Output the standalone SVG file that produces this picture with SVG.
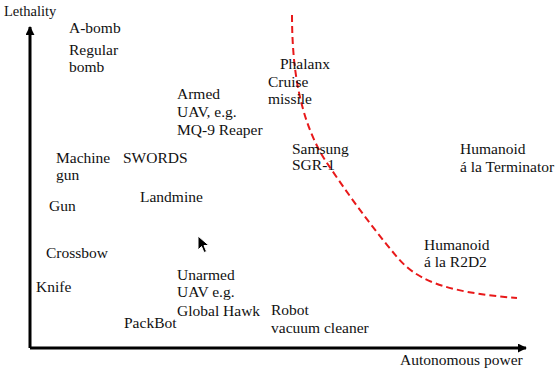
<svg xmlns="http://www.w3.org/2000/svg" width="560" height="374" viewBox="0 0 560 374">
<style>
.t text{font-size:15.5px;fill:#111}
.ax{stroke:#000;stroke-width:3;fill:none}
.lim{stroke:#e8191a;stroke-width:2;fill:none;stroke-dasharray:7 4}
</style>
<defs>
<marker id="ah" viewBox="0 0 10 10" refX="9" refY="5" markerWidth="3" markerHeight="3" orient="auto" markerUnits="strokeWidth">
<path d="M0,0 L10,5 L0,10 Z" fill="#000"/>
</marker>
</defs>
<rect width="560" height="374" fill="#fff"/>
<g id="connectors">
<path class="ax" d="M30,348 L30,27" marker-end="url(#ah)"/>
<path class="ax" d="M30,348 L526,348" marker-end="url(#ah)"/>
<path class="lim" d="M292,15 C292,70 300,120 325,160 C345,190 370,225 397,257 C415,278 440,292 517,298"/>
</g>
<g class="t" font-family="Liberation Serif">
<g id="axis-y"><text x="4" y="16" style="font-size:14.5px">Lethality</text></g>
<g id="axis-x"><text x="400" y="365">Autonomous power</text></g>
<g id="abomb"><text x="69" y="33">A-bomb</text></g>
<g id="regular-bomb"><text x="69" y="55">Regular</text><text x="69" y="72">bomb</text></g>
<g id="armed-uav"><text x="177" y="99">Armed</text><text x="177" y="117">UAV, e.g.</text><text x="177" y="135">MQ-9 Reaper</text></g>
<g id="phalanx"><text x="280" y="69">Phalanx</text></g>
<g id="cruise"><text x="268" y="87">Cruise</text><text x="268" y="104">missile</text></g>
<g id="samsung"><text x="292" y="154">Samsung</text><text x="292" y="170">SGR-1</text></g>
<g id="terminator"><text x="460" y="154">Humanoid</text><text x="460" y="172">á la Terminator</text></g>
<g id="machine-gun"><text x="56" y="163">Machine</text><text x="56" y="180">gun</text></g>
<g id="swords"><text x="123" y="163">SWORDS</text></g>
<g id="landmine"><text x="140" y="202">Landmine</text></g>
<g id="gun"><text x="49" y="211">Gun</text></g>
<g id="crossbow"><text x="46" y="258">Crossbow</text></g>
<g id="r2d2"><text x="424" y="250">Humanoid</text><text x="424" y="267">á la R2D2</text></g>
<g id="knife"><text x="36" y="292">Knife</text></g>
<g id="unarmed-uav"><text x="177" y="280">Unarmed</text><text x="177" y="297">UAV e.g.</text><text x="177" y="316">Global Hawk</text></g>
<g id="packbot"><text x="124" y="328">PackBot</text></g>
<g id="vacuum"><text x="271" y="315">Robot</text><text x="271" y="333">vacuum cleaner</text></g>
</g>
<path d="M198,236 L198,250 L201.5,246.5 L204,252.5 L206.5,251.5 L204,245.5 L209,245.5 Z" fill="#000" stroke="#fff" stroke-width="1"/>
</svg>
